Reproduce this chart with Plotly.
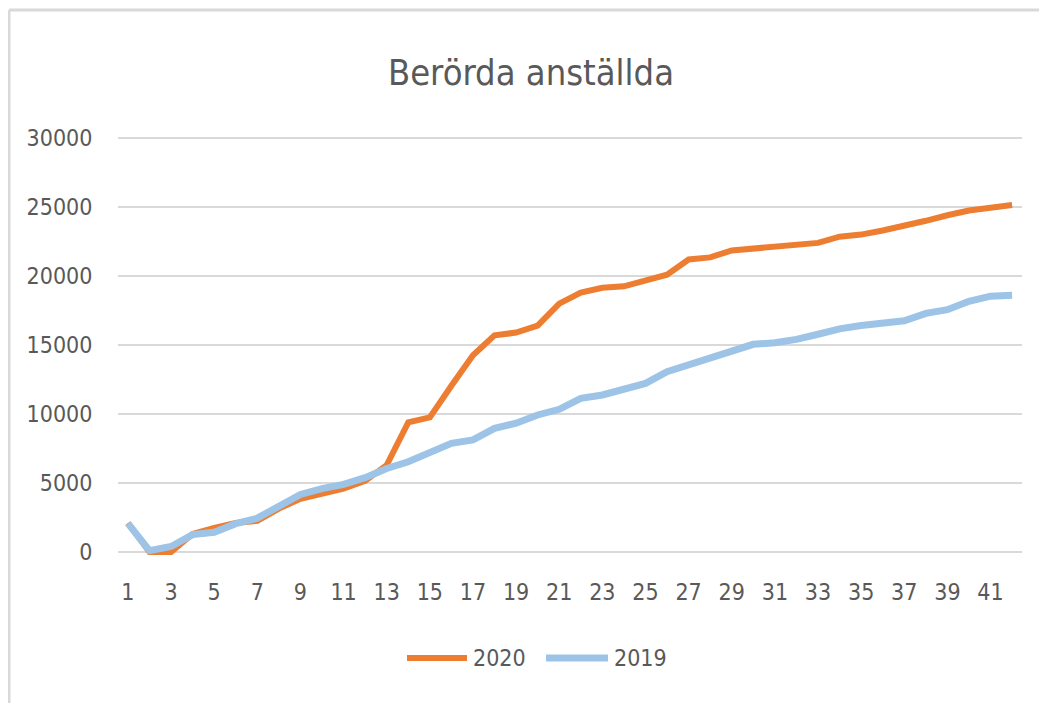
import plotly.graph_objects as go

weeks = list(range(1, 43))
x_tick_vals = list(range(1, 42, 2))
y_tick_vals = [0, 5000, 10000, 15000, 20000, 25000, 30000]

series_2020_name = "2020"
series_2020 = [2100, 0, 0, 1300, 1750, 2100, 2250, 3150, 3850, 4250,
               4600, 5150, 6300, 9400, 9750, 12050, 14250, 15700, 15900, 16400,
               18000, 18800, 19150, 19250, 19700, 20100, 21200, 21350, 21850, 22000,
               22150, 22300, 22400, 22850, 23000, 23300, 23600, 24000, 24400, 24750,
               24950, 25150]

series_2019_name = "2019"
series_2019 = [2080, 100, 400, 1260, 1430, 2050, 2450, 3370, 4170, 4590,
               4900, 5390, 6050, 6540, 7270, 7870, 8120, 8960, 9330, 9930,
               10340, 11140, 11380, 11740, 12220, 13070, 13550, 14100, 14560, 15050,
               15170, 15410, 15780, 16170, 16410, 16630, 16760, 17290, 17560, 18170,
               18540, 18610]

title_text = "Berörda anställda"

ORANGE = "#ED7D31"
BLUE = "#9DC3E6"
GRID = "#D9D9D9"
TEXT = "#595959"
FONT = "DejaVu Sans Condensed, Open Sans, sans-serif"

OFF = 8  # page body margin
W, H = 1047 - OFF, 703 - OFF
Y_PAD = 30000 / 414 * 3  # 3 px of padding so edge gridlines show
ML, MR, MT, MB = 118 - OFF, 25, 138 - OFF - 3, H - (552 - OFF + 3)
PW = W - ML - MR
PH = H - MT - MB


def px_x(p):
    return (p - OFF - ML) / PW


def px_y(p):
    return (H - MB - (p - OFF)) / PH


fig = go.Figure()
fig.add_trace(go.Scatter(x=weeks, y=series_2020, mode="lines", name=series_2020_name,
                         line=dict(color=ORANGE, width=6), showlegend=False))
fig.add_trace(go.Scatter(x=weeks, y=series_2019, mode="lines", name=series_2019_name,
                         line=dict(color=BLUE, width=7), showlegend=False))

shapes = [
    # outer chart frame (left and top edges)
    dict(type="line", xref="paper", yref="paper", x0=px_x(9), x1=px_x(9),
         y0=px_y(10), y1=px_y(710), line=dict(color=GRID, width=3)),
    dict(type="line", xref="paper", yref="paper", x0=px_x(9), x1=px_x(1060),
         y0=px_y(10), y1=px_y(10), line=dict(color=GRID, width=3)),
]
annotations = []
legend_items = [(series_2020_name, ORANGE, 407, 467, 6), (series_2019_name, BLUE, 546, 608, 7)]
ly = px_y(658)
for name, color, x0, x1, w in legend_items:
    shapes.append(dict(type="line", xref="paper", yref="paper", x0=px_x(x0), x1=px_x(x1),
                       y0=ly, y1=ly, line=dict(color=color, width=w)))
    annotations.append(dict(text=name, xref="paper", yref="paper", x=px_x(x1 + 4), y=ly,
                            xanchor="left", yanchor="middle", showarrow=False,
                            font=dict(family=FONT, size=23, color=TEXT)))

fig.update_layout(
    width=W, height=H,
    margin=dict(l=ML, r=MR, t=MT, b=MB, pad=0),
    paper_bgcolor="white", plot_bgcolor="white",
    title=dict(text=title_text, x=px_x(531), xref="paper", xanchor="center",
               y=1 - (72 - OFF) / H, yanchor="middle",
               font=dict(family=FONT, size=36, color=TEXT)),
    shapes=shapes,
    annotations=annotations,
    showlegend=False,
)
fig.update_xaxes(range=[0.54, 42.46], tickvals=x_tick_vals, showgrid=False, zeroline=False,
                 showline=False, ticks="outside", ticklen=16, tickcolor="rgba(0,0,0,0)",
                 tickfont=dict(family=FONT, size=23, color=TEXT))
fig.update_yaxes(range=[-Y_PAD, 30000 + Y_PAD], tickvals=y_tick_vals, tickformat="d",
                 showgrid=True, gridcolor=GRID, gridwidth=2, zeroline=False, showline=False,
                 ticks="outside", ticklen=20, tickcolor="rgba(0,0,0,0)",
                 tickfont=dict(family=FONT, size=23, color=TEXT))

fig.write_html("out.html")
